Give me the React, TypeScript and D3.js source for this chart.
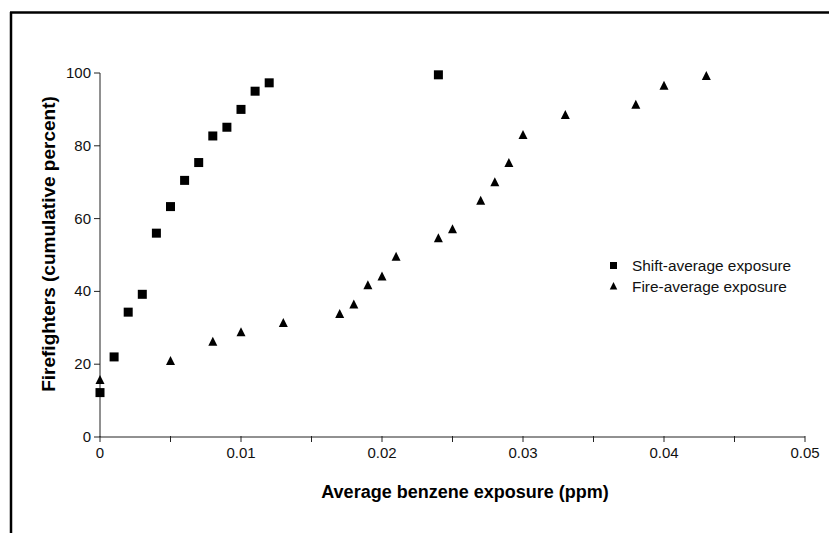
import React from "react";
import * as d3 from "d3";

const shiftX = [0, 0.001, 0.002, 0.003, 0.004, 0.005, 0.006, 0.007, 0.008, 0.009, 0.01, 0.011, 0.012, 0.024];
const shiftY = [12.2, 22, 34.3, 39.2, 56, 63.3, 70.5, 75.4, 82.7, 85.1, 90, 95, 97.3, 99.5];
const fireX = [0, 0.005, 0.008, 0.01, 0.013, 0.017, 0.018, 0.019, 0.02, 0.021, 0.024, 0.025, 0.027, 0.028, 0.029, 0.03, 0.033, 0.038, 0.04, 0.043];
const fireY = [15.7, 20.9, 26.2, 28.8, 31.3, 33.8, 36.4, 41.7, 44.1, 49.5, 54.6, 57.1, 64.9, 70, 75.3, 83, 88.5, 91.3, 96.5, 99.2];
const xTickLabels = [0, 0.01, 0.02, 0.03, 0.04, 0.05];
const xMinorTicks = d3.range(0, 0.0501, 0.005);
const yTicks = [0, 20, 40, 60, 80, 100];
const legendLabels = ["Shift-average exposure", "Fire-average exposure"];

export default function App() {
  const W = 829, H = 533;
  const x = d3.scaleLinear().domain([0, 0.05]).range([100, 805]);
  const y = d3.scaleLinear().domain([0, 100]).range([437, 73]);
  const font = "'Liberation Sans', Arial, sans-serif";
  const tri = (cx: number, cy: number, s: number) =>
    `M${cx},${cy - s * 0.55}L${cx + s / 2},${cy + s * 0.45}L${cx - s / 2},${cy + s * 0.45}Z`;
  return (
    <svg width={W} height={H} style={{ position: "absolute", left: 0, top: 0, background: "#fff" }}>
      <rect x={0} y={0} width={W} height={H} fill="#fff" />
      {/* frame */}
      <line x1={10} y1={12.5} x2={W} y2={12.5} stroke="#000" strokeWidth={2.5} />
      <line x1={11} y1={12} x2={11} y2={H} stroke="#000" strokeWidth={2.5} />
      {/* axes */}
      <line x1={x(0)} y1={y(0)} x2={x(0.05)} y2={y(0)} stroke="#222" strokeWidth={1} />
      <line x1={x(0)} y1={y(0)} x2={x(0)} y2={y(100)} stroke="#222" strokeWidth={1} />
      {xMinorTicks.map((t, i) => (
        <line key={"xt" + i} x1={x(t)} x2={x(t)} y1={y(0) - 1} y2={y(0) + 5} stroke="#222" strokeWidth={1} />
      ))}
      {xTickLabels.map((t) => (
        <text key={"xl" + t} x={x(t)} y={458} textAnchor="middle" fontFamily={font} fontSize={15} fill="#111">
          {t === 0 ? "0" : d3.format(".2f")(t)}
        </text>
      ))}
      {yTicks.map((t) => (
        <g key={"yt" + t}>
          <line x1={x(0) - 6} x2={x(0)} y1={y(t)} y2={y(t)} stroke="#222" strokeWidth={1} />
          <text x={91} y={y(t) + 5} textAnchor="end" fontFamily={font} fontSize={15} fill="#111">
            {t}
          </text>
        </g>
      ))}
      {/* axis titles */}
      <text x={465} y={498} textAnchor="middle" fontFamily={font} fontSize={18} fontWeight="bold" fill="#000">
        Average benzene exposure (ppm)
      </text>
      <text
        transform={`translate(55,244) rotate(-90)`}
        textAnchor="middle"
        fontFamily={font}
        fontSize={19}
        fontWeight="bold"
        fill="#000"
      >
        Firefighters (cumulative percent)
      </text>
      {/* data */}
      {shiftX.map((v, i) => (
        <rect key={"s" + i} x={x(v) - 4.5} y={y(shiftY[i]) - 4.5} width={9} height={9} fill="#000" />
      ))}
      {fireX.map((v, i) => (
        <path key={"f" + i} d={tri(x(v), y(fireY[i]), 9)} fill="#000" />
      ))}
      {/* legend */}
      <rect x={610} y={262} width={7} height={7} fill="#000" />
      <path d={tri(613.5, 286, 7.5)} fill="#000" />
      {legendLabels.map((l, i) => (
        <text key={l} x={632} y={271 + i * 20.5} fontFamily={font} fontSize={15.4} fill="#111">
          {l}
        </text>
      ))}
    </svg>
  );
}
